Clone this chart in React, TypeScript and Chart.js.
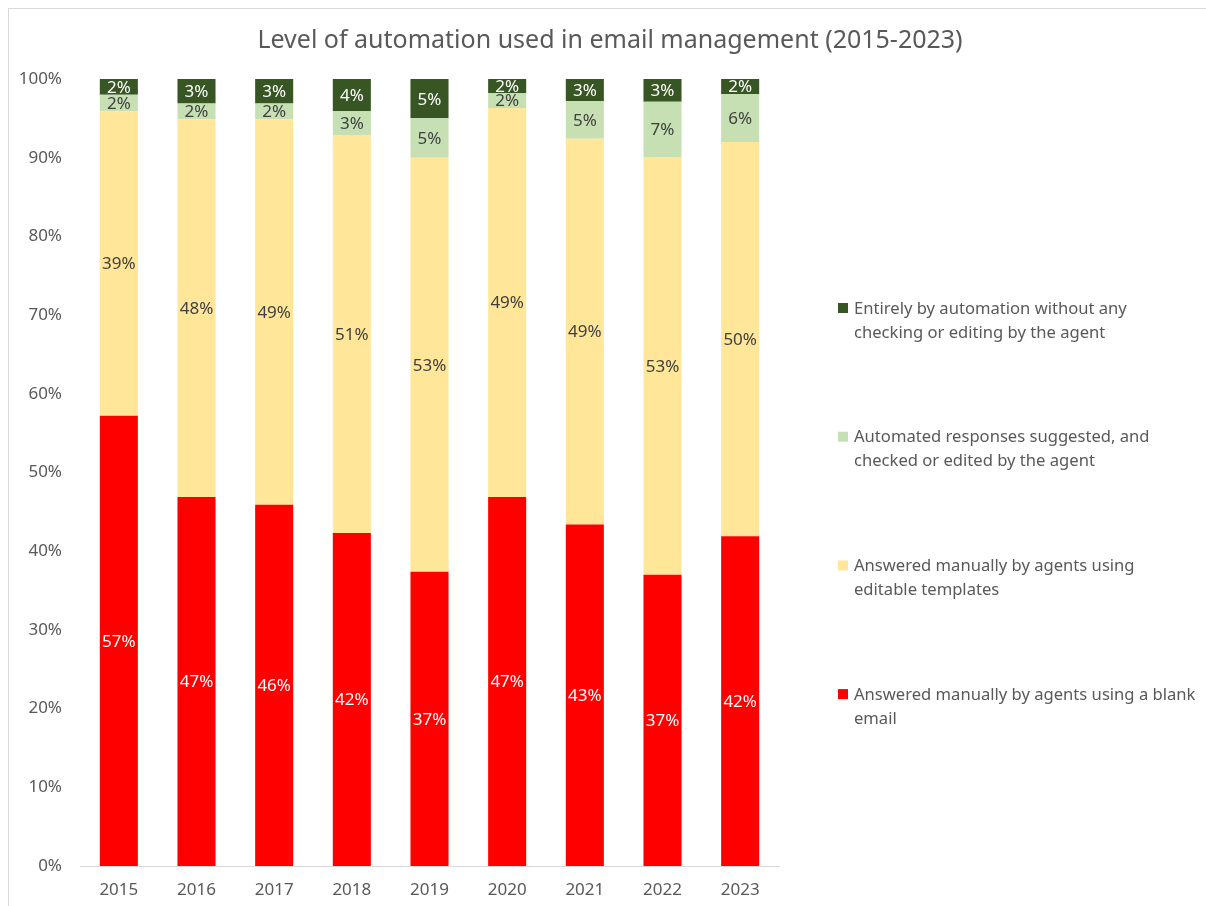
import React, { useEffect, useRef } from "react";
import { Chart, registerables } from "chart.js";

Chart.register(...registerables);

const years = ["2015", "2016", "2017", "2018", "2019", "2020", "2021", "2022", "2023"];
const blankEmail = [57.2, 46.9, 45.9, 42.3, 37.4, 46.9, 43.4, 37.0, 41.9];
const templates = [38.7, 48.0, 49.0, 50.6, 52.6, 49.4, 49.0, 53.1, 50.1];
const suggested = [2.1, 2.0, 2.0, 3.0, 5.0, 1.9, 4.8, 7.0, 6.1];
const fullyAutomated = [2.0, 3.1, 3.1, 4.1, 5.0, 1.8, 2.8, 2.9, 1.9];
const yTicks = [0, 10, 20, 30, 40, 50, 60, 70, 80, 90, 100];

const seriesNames = [
  "Answered manually by agents using a blank email",
  "Answered manually by agents using editable templates",
  "Automated responses suggested, and checked or edited by the agent",
  "Entirely by automation without any checking or editing by the agent",
];
const legendLines = [
  ["Answered manually by agents using a blank", "email"],
  ["Answered manually by agents using", "editable templates"],
  ["Automated responses suggested, and", "checked or edited by the agent"],
  ["Entirely by automation without any", "checking or editing by the agent"],
];
const colors = ["#FF0000", "#FFE699", "#C6E0B4", "#375623"];
const labelColors = ["#FFFFFF", "#404040", "#404040", "#FFFFFF"];
const title = "Level of automation used in email management (2015-2023)";

const FONT = "'Noto Sans', 'Open Sans', sans-serif";

const labelsPlugin = {
  id: "segLabels",
  afterDatasetsDraw(chart: any) {
    const ctx = chart.ctx;
    ctx.save();
    ctx.font = `17px ${FONT}`;
    ctx.textAlign = "center";
    ctx.textBaseline = "middle";
    chart.data.datasets.forEach((ds: any, di: number) => {
      const meta = chart.getDatasetMeta(di);
      meta.data.forEach((bar: any, i: number) => {
        const v = ds.data[i];
        const yc = (bar.y + bar.base) / 2;
        ctx.fillStyle = labelColors[di];
        ctx.fillText(Math.round(v) + "%", bar.x, yc + 1);
      });
    });
    ctx.restore();
  },
};

const decorPlugin = {
  id: "decor",
  afterDraw(chart: any) {
    const ctx = chart.ctx;
    const area = chart.chartArea;
    ctx.save();
    ctx.fillStyle = "#595959";
    ctx.font = `25px ${FONT}`;
    ctx.textAlign = "center";
    ctx.textBaseline = "middle";
    ctx.fillText(title, 601, 32);
    ctx.font = `16.6px ${FONT}`;
    ctx.textAlign = "left";
    const startY = area.top + 229;
    const gap = 128.7;
    const order = [3, 2, 1, 0];
    order.forEach((si, k) => {
      const y = startY + k * gap;
      ctx.fillStyle = colors[si];
      ctx.fillRect(829, y - 5, 10, 10);
      ctx.fillStyle = "#595959";
      legendLines[si].forEach((line, li) => {
        ctx.fillText(line, 845, y + li * 24 + 1);
      });
    });
    ctx.restore();
  },
};

export default function App() {
  const ref = useRef<HTMLCanvasElement>(null);
  useEffect(() => {
    if (!ref.current) return;
    const series = [blankEmail, templates, suggested, fullyAutomated];
    const chart = new Chart(ref.current, {
      type: "bar",
      data: {
        labels: years,
        datasets: series.map((d, i) => ({
          label: seriesNames[i],
          data: d,
          backgroundColor: colors[i],
          borderWidth: 0,
          barPercentage: 1,
          categoryPercentage: 0.49,
        })),
      },
      options: {
        responsive: false,
        animation: false,
        devicePixelRatio: 1,
        layout: { padding: { top: 70, right: 427, left: 0, bottom: 0 } },
        plugins: {
          legend: { display: false },
          tooltip: { enabled: false },
          title: { display: false },
        },
        scales: {
          x: {
            stacked: true,
            grid: { display: false, drawTicks: false },
            border: { display: true, color: "#D9D9D9", width: 1 },
            ticks: { color: "#595959", font: { size: 17, family: FONT }, padding: 14 },
            afterFit: (s: any) => {
              s.height = 40;
            },
          },
          y: {
            stacked: true,
            min: 0,
            max: 100,
            afterBuildTicks: (s: any) => {
              s.ticks = yTicks.map((v) => ({ value: v }));
            },
            grid: { display: false, drawTicks: false },
            border: { display: false },
            ticks: {
              color: "#595959",
              font: { size: 17, family: FONT },
              padding: 18,
              callback: (v: any) => v + "%",
            },
            afterFit: (s: any) => {
              s.width = 71;
            },
          },
        },
      },
      plugins: [labelsPlugin, decorPlugin],
    });
    return () => chart.destroy();
  }, []);

  return (
    <div
      style={{
        position: "fixed",
        left: 8,
        top: 8,
        width: 1198,
        height: 898,
        boxSizing: "border-box",
        borderTop: "1px solid #D9D9D9",
        borderLeft: "1px solid #D9D9D9",
        background: "#fff",
      }}
    >
      <canvas ref={ref} width={1197} height={897} style={{ display: "block" }} />
    </div>
  );
}
